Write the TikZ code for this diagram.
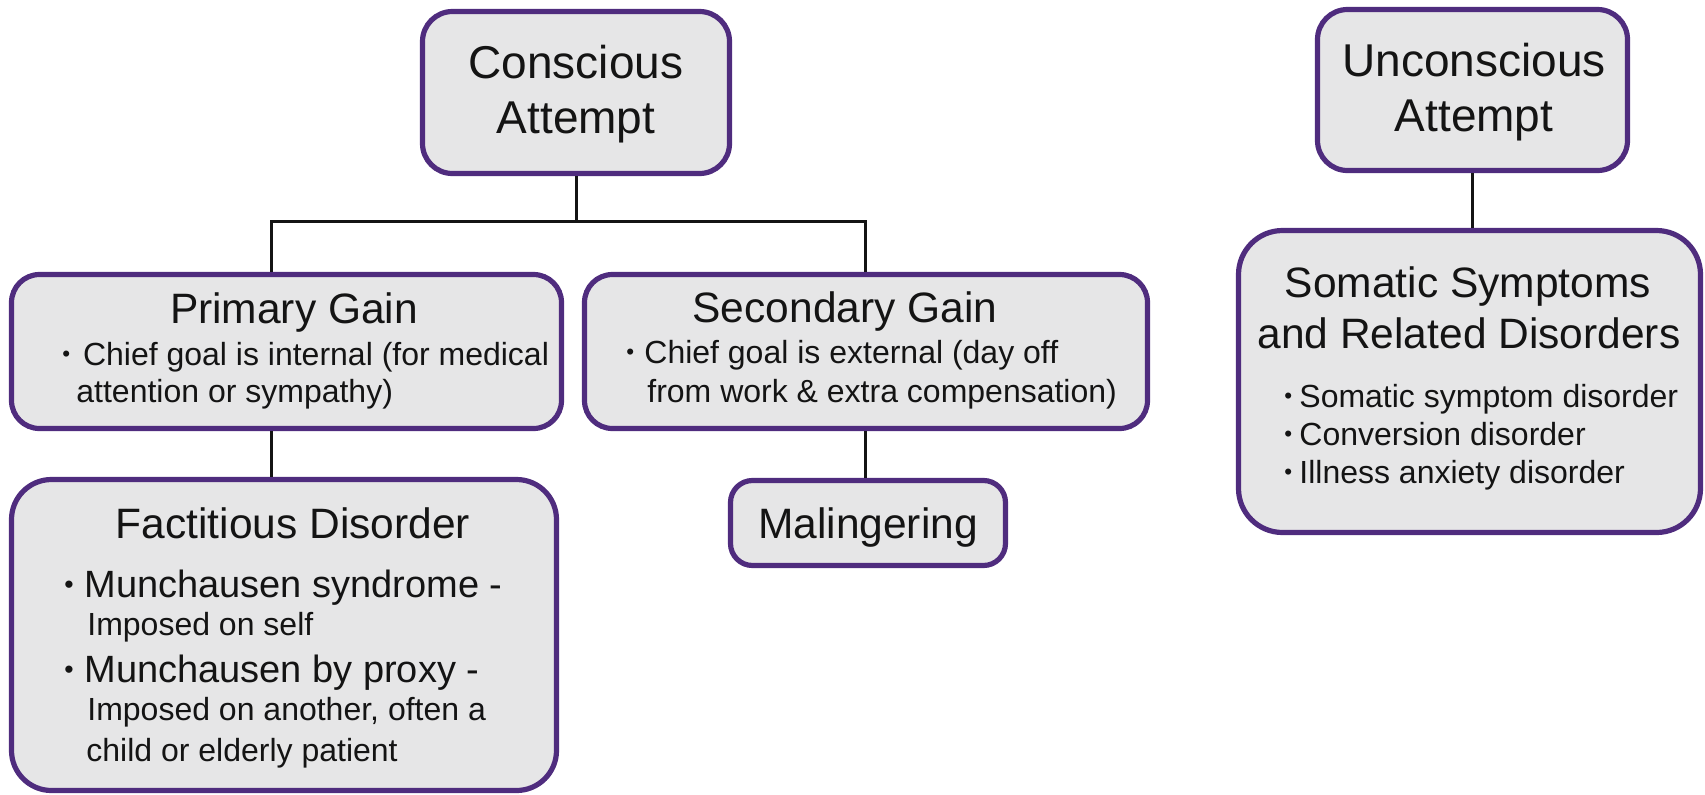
\documentclass[tikz,border=0pt]{standalone}
\usepackage{graphicx}
\usepackage{fontspec}
\setmainfont{Liberation Sans}
\usetikzlibrary{fit}
\definecolor{boxfill}{HTML}{E6E6E7}
\definecolor{boxline}{HTML}{4F2C7E}
\definecolor{ink}{HTML}{141414}
\newcommand\mybul[1]{\makebox[#1][l]{\raisebox{0.1em}{\scalebox{0.7}{•}}}}
\begin{document}
\begin{tikzpicture}[x=0.5pt,y=-0.5pt,
  box/.style={draw=boxline, fill=boxfill, line width=2.6pt, inner sep=0pt},
  conn/.style={draw=ink, line width=1.5pt},
  big/.style={font=\fontsize{23}{27}\selectfont, text=ink, inner sep=0pt, anchor=base},
  ttl/.style={font=\fontsize{21.25}{25}\selectfont, text=ink, inner sep=0pt, anchor=base},
  mid/.style={font=\fontsize{19}{23}\selectfont, text=ink, inner sep=0pt, anchor=base west},
  sml/.style={font=\fontsize{16}{19}\selectfont, text=ink, inner sep=0pt, anchor=base west}]
\useasboundingbox (0,0) rectangle (1705,794);

% boxes
\node[box, rounded corners=15pt, fit={(422.5,11.5) (729.5,173.5)}] (ca) {};
\node[box, rounded corners=15pt, fit={(1317.5,9.5) (1627.5,170.5)}] (ua) {};
\node[box, rounded corners=14pt, fit={(11.5,274.5) (561.5,428.5)}] (pg) {};
\node[box, rounded corners=14pt, fit={(584.5,274.5) (1147.5,428.5)}] (sg) {};
\node[box, rounded corners=11pt, fit={(730.5,480.5) (1005.5,565.5)}] (ma) {};
\node[box, rounded corners=20pt, fit={(11.5,479.5) (556.5,790.5)}] (fd) {};
\node[box, rounded corners=22pt, fit={(1238.5,230.5) (1700.5,532.5)}] (so) {};

% connectors
\coordinate (busL) at (271,221);
\coordinate (busR) at (865,221);
\draw[conn] (ca.south) -- (ca.south |- busL);
\draw[conn] (pg.north -| busL) -- (busL) -- (busR) -- (sg.north -| busR);
\draw[conn] (pg.south -| busL) -- (fd.north -| busL);
\draw[conn] (sg.south -| busR) -- (ma.north -| busR);
\draw[conn] (ua.south) -- (ua.south |- so.north);

% texts: Conscious / Unconscious
\node[big] (ca1) at (576,78) {Conscious};
\node[big] (ca2) at (576,133) {Attempt};
\node[big] (ua1) at (1474,76) {Unconscious};
\node[big] (ua2) at (1474,131) {Attempt};

% Primary Gain
\node[ttl] (pgt) at (294,323) {Primary Gain};
\node[sml] (pg1) at (62,365) {\mybul{10.3pt}Chief goal is internal (for medical};
\node[sml] (pg2) at (76,402) {attention or sympathy)};

% Secondary Gain
\node[ttl] (sgt) at (845,322) {Secondary Gain};
\node[sml] (sg1) at (626,363) {\mybul{9pt}Chief goal is external (day off};
\node[sml] (sg2) at (647,402) {from work \& extra compensation)};

% Malingering
\node[ttl] (mat) at (868,538) {Malingering};

% Factitious Disorder
\node[ttl] (fdt) at (293,538) {Factitious Disorder};
\node[mid] (fd1) at (64,597) {\mybul{10pt}Munchausen syndrome -};
\node[sml] (fd2) at (87,635) {Imposed on self};
\node[mid] (fd3) at (64,682) {\mybul{10pt}Munchausen by proxy -};
\node[sml] (fd4) at (87,720) {Imposed on another, often a};
\node[sml] (fd5) at (86,761) {child or elderly patient};

% Somatic
\node[ttl] (sot1) at (1468,297) {Somatic Symptoms};
\node[ttl] (sot2) at (1469,348) {and Related Disorders};
\node[sml] (so1) at (1284,407) {\mybul{7.5pt}Somatic symptom disorder};
\node[sml] (so2) at (1284,445) {\mybul{7.5pt}Conversion disorder};
\node[sml] (so3) at (1284,483) {\mybul{7.5pt}Illness anxiety disorder};
\end{tikzpicture}
\end{document}
